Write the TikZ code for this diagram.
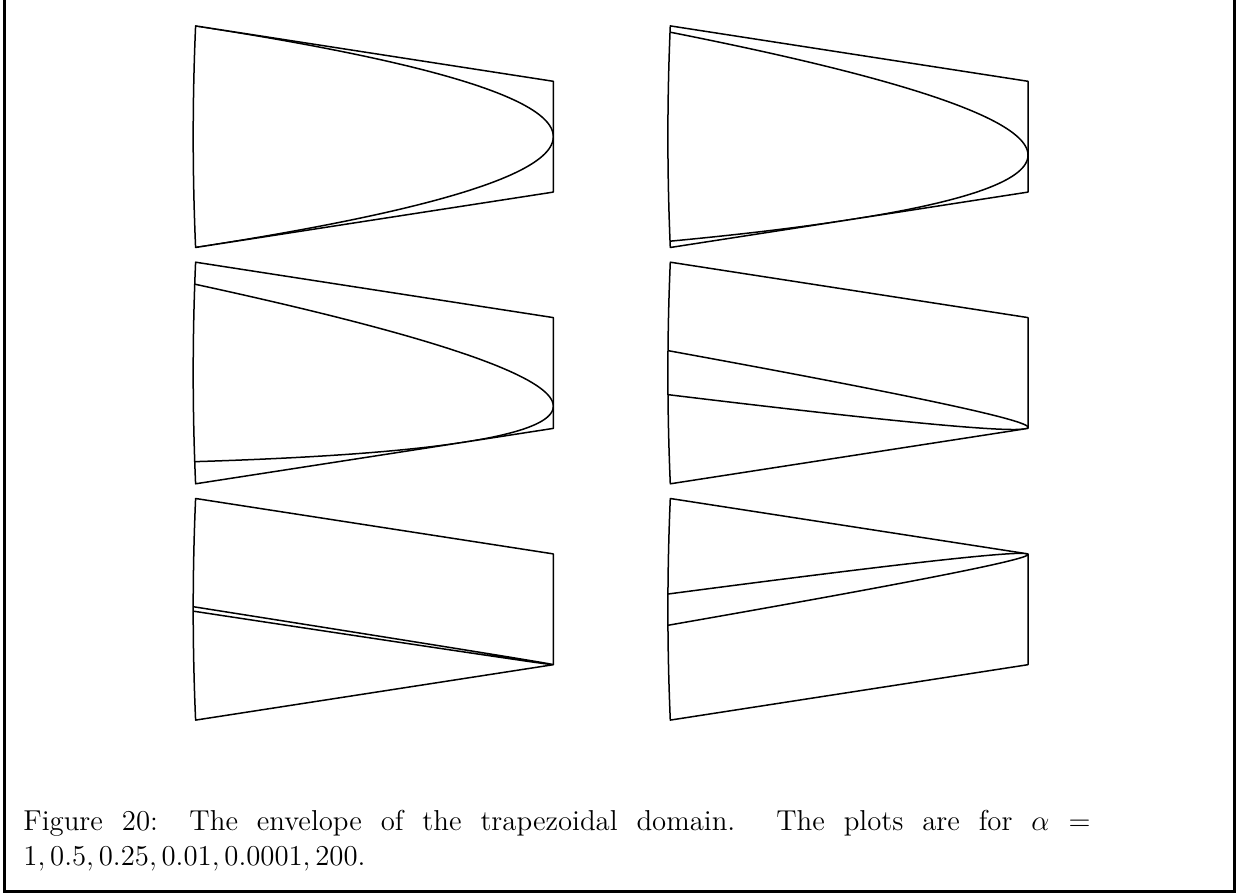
\documentclass[tikz,border=0pt]{standalone}
\usepackage{fontspec}
\newcommand\capfont{\fontsize{12}{14.5}\selectfont}
\tikzset{
  curve/.style={line width=0.625pt, line join=round, line cap=round},
  frameline/.style={line width=1.25pt},
  captext/.style={anchor=base west, inner sep=0pt, font=\capfont}
}
% #1 name, #2 x0, #3 yc, #4 r = 1/alpha  (coordinates in reference pixels)
\newcommand\envpanel[4]{%
  \pgfmathsetmacro\Wd{357.7}%
  \pgfmathsetmacro\Hh{110.8}%
  \pgfmathsetmacro\rr{#4}%
  \pgfmathsetmacro\cc{(1-\rr)/(1+\rr)}%
  \pgfmathsetmacro\dd{2*sqrt(\rr)/(1+\rr)}%
  \coordinate (#1TL) at (#2, #3-\Hh);
  \coordinate (#1BL) at (#2, #3+\Hh);
  \coordinate (#1TR) at (#2+\Wd, #3-\Hh/2);
  \coordinate (#1BR) at (#2+\Wd, #3+\Hh/2);
  \coordinate (#1LA) at (#2-3.2, #3+\Hh/3);
  \coordinate (#1LB) at (#2-3.2, #3-\Hh/3);
  \begin{scope}
    \clip (#1TL) -- (#1TR) -- (#1BR) -- (#1BL) .. controls (#1LA) and (#1LB) .. (#1TL) -- cycle;
    \draw[curve] plot[domain=-1.04:1.04, samples=241, variable=\s]
      ({#2+\Wd*(1-\s*\s)}, {#3-\Hh/2*\cc*(1-\s*\s)+\Hh*\dd*\s});
  \end{scope}
  \draw[curve] (#1TL) -- (#1TR) -- (#1BR) -- (#1BL) .. controls (#1LA) and (#1LB) .. (#1TL) -- cycle;
}
\begin{document}
\begin{tikzpicture}[x=0.416667pt, y=-0.416667pt]
  \useasboundingbox (0,0) rectangle (1237,896);
  \coordinate (fa) at (4.5,-5);
  \coordinate (fb) at (4.5,891.5);
  \coordinate (fc) at (1234.5,891.5);
  \coordinate (fd) at (1234.5,-5);
  \draw[frameline] (fa) -- (fb) -- (fc) -- (fd);
  \envpanel{a}{195.6}{136.7}{1}
  \envpanel{b}{670.3}{136.7}{2}
  \envpanel{c}{195.6}{373.0}{4}
  \envpanel{d}{670.3}{373.0}{100}
  \envpanel{e}{195.6}{609.3}{10000}
  \envpanel{f}{670.3}{609.3}{0.005}
  \node[captext] (cap1) at (23,831) {\makebox[444.58pt][s]{Figure 20: The envelope of the trapezoidal domain. The plots are for $\alpha$ $=$}};
  \node[captext] (cap2) at (23,866) {$1, 0.5, 0.25, 0.01, 0.0001, 200.$};
\end{tikzpicture}
\end{document}
